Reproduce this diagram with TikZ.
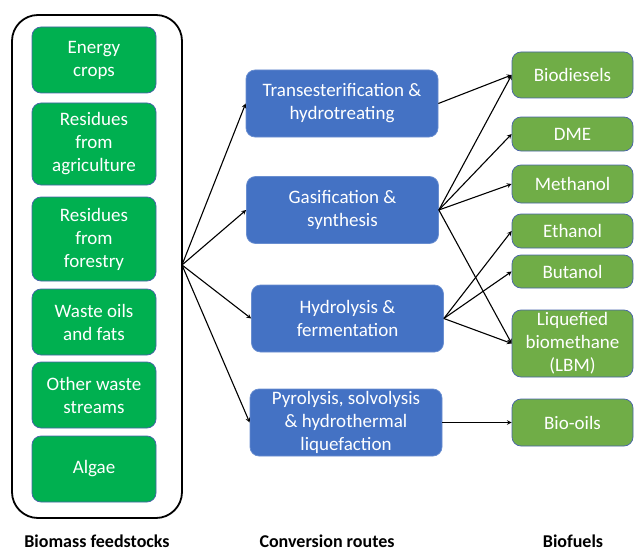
\documentclass[tikz,border=0pt]{standalone}
\usepackage{fontspec}
\setmainfont{Carlito}
\usepackage{tikz}
\usetikzlibrary{calc, positioning, arrows}
\definecolor{fsgreen}{RGB}{0,176,80}
\definecolor{bfgreen}{RGB}{112,173,71}
\definecolor{rtblue}{RGB}{68,114,196}
\definecolor{edgeblue}{RGB}{72,98,170}
\tikzstyle{box}=[inner sep=0pt, draw=edgeblue, line width=0.7pt, rounded corners=9pt, shape=rectangle, text=white, align=center, font=\fontsize{19}{23}\selectfont]
\tikzstyle{fs}=[box, fill=fsgreen, minimum width=124pt]
\tikzstyle{rt}=[box, fill=rtblue, draw=rtblue!80!white, minimum width=192pt, minimum height=67pt]
\tikzstyle{bf}=[box, fill=bfgreen, minimum width=121pt]
\tikzstyle{colhead}=[inner sep=0pt, anchor=base, font=\fontsize{18}{22}\selectfont\bfseries]
\tikzstyle{arr}=[->, line width=1.1pt]
\tikzset{>=stealth}
\begin{document}
\begin{tikzpicture}[x=1pt, y=-1pt]
\useasboundingbox (0,0) rectangle (635,551);
\draw[line width=1.8pt, rounded corners=26pt] (12,15) rectangle (182,518);
%
\node[fs, minimum height=66pt] (fs1) at (94,60) {Energy\\crops};
\node[fs, minimum height=82pt] (fs2) at (94,144) {Residues\\from\\agriculture};
\node[fs, minimum height=84pt] (fs3) at (94,239) {Residues\\from\\forestry};
\node[fs, minimum height=66pt] (fs4) at (94,322) {Waste oils\\and fats};
\node[fs, minimum height=66pt] (fs5) at (94,395) {Other waste\\streams};
\node[fs, minimum height=66pt] (fs6) at (94,469) {Algae};
%
\node[rt] (rt1) at (342,103.5) {Transesterification \&\\hydrotreating};
\node[rt] (rt2) at (342.5,210) {Gasification \&\\synthesis};
\node[rt] (rt3) at (347.5,318.5) {Hydrolysis \&\\fermentation};
\node[rt] (rt4) at (346,422.5) {Pyrolysis, solvolysis\\\& hydrothermal\\liquefaction};
%
\node[bf, minimum height=46pt] (bf1) at (572.5,75) {Biodiesels};
\node[bf, minimum height=34pt] (bf2) at (572.5,134) {DME};
\node[bf, minimum height=38pt] (bf3) at (572.5,184) {Methanol};
\node[bf, minimum height=34pt] (bf4) at (572.5,231) {Ethanol};
\node[bf, minimum height=33pt] (bf5) at (572.5,271.5) {Butanol};
\node[bf, minimum height=67pt] (bf6) at (572.5,343.5) {Liquefied\\biomethane\\(LBM)};
\node[bf, minimum height=47pt] (bf7) at (572.5,422.5) {Bio-oils};
%
\node[colhead] (c1) at (97,547) {Biomass feedstocks};
\node[colhead] (c2) at (327,547) {Conversion routes};
\node[colhead] (c3) at (573,547) {Biofuels};
%
\coordinate (fan) at (182,265);
\foreach \r in {rt1, rt2, rt3, rt4} \draw[arr] (fan) -- (\r.west);
%
\draw[arr] (rt1.east) -- (bf1.west);
\foreach \b in {bf1, bf2, bf3, bf6} \draw[arr] (rt2.east) -- (\b.west);
\foreach \b in {bf4, bf5, bf6} \draw[arr] (rt3.east) -- (\b.west);
\draw[arr] (rt4.east) -- (bf7.west);
\end{tikzpicture}
\end{document}
